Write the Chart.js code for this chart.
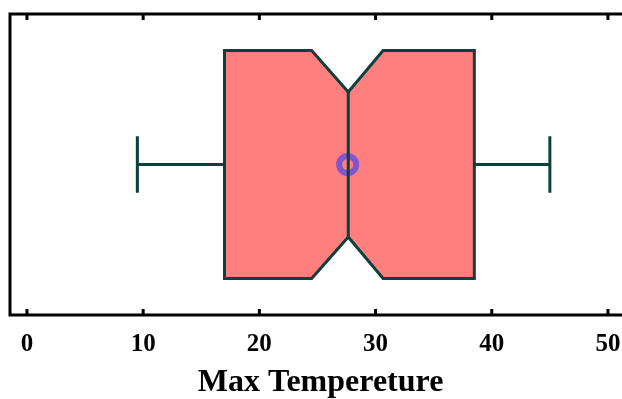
<!DOCTYPE html>
<html>
<head>
<meta charset="utf-8">
<script src="https://cdn.jsdelivr.net/npm/chart.js@4/dist/chart.umd.min.js"></script>
<style>
  html, body { margin: 0; padding: 0; background: #ffffff; overflow: hidden; width: 622px; height: 399px; }
  #wrap { width: 640px; height: 399px; }
</style>
</head>
<body>
<div id="wrap"><canvas id="c" width="640" height="399"></canvas></div>
<script>
// ---- data ----
const categories = ['Max Tempereture'];
const whiskerLow = [9.5];
const q1 = [17.0];
const notchLow = [24.5];
const median = [27.65];
const notchHigh = [30.65];
const q3 = [38.5];
const whiskerHigh = [45.0];
const means = [27.6];
const tickValues = [0, 10, 20, 30, 40, 50];
const axisTitle = 'Max Tempereture';

// ---- style ----
const LINE = '#0b403d';
const FILL = '#ff7f7f';
const MEAN = '#7f55d0';
const BOX_HALF = 0.757;
const NOTCH_HALF = 0.482;
const CAP_HALF = 0.187;

const boxPlugin = {
  id: 'notchedBox',
  beforeDatasetsDraw(chart) {
    const { ctx, chartArea: ca, scales: { x, y } } = chart;
    ctx.save();
    // frame
    ctx.strokeStyle = '#000';
    ctx.lineWidth = 3;
    ctx.lineCap = 'square';
    ctx.beginPath();
    ctx.moveTo(ca.right, ca.top);
    ctx.lineTo(ca.left, ca.top);
    ctx.lineTo(ca.left, ca.bottom);
    ctx.lineTo(ca.right, ca.bottom);
    ctx.stroke();
    ctx.lineCap = 'butt';
    x.ticks.forEach((t) => {
      const px = x.getPixelForValue(t.value);
      ctx.beginPath();
      ctx.moveTo(px, ca.top);
      ctx.lineTo(px, ca.top + 6);
      ctx.moveTo(px, ca.bottom);
      ctx.lineTo(px, ca.bottom - 6);
      ctx.stroke();
    });
    // boxes
    categories.forEach((c, i) => {
      const yc = y.getPixelForValue(0);
      const hb = Math.abs(y.getPixelForValue(BOX_HALF) - yc);
      const hn = Math.abs(y.getPixelForValue(NOTCH_HALF) - yc);
      const hc = Math.abs(y.getPixelForValue(CAP_HALF) - yc);
      const xl = x.getPixelForValue(whiskerLow[i]);
      const x1 = x.getPixelForValue(q1[i]);
      const xnl = x.getPixelForValue(notchLow[i]);
      const xm = x.getPixelForValue(median[i]);
      const xnh = x.getPixelForValue(notchHigh[i]);
      const x3 = x.getPixelForValue(q3[i]);
      const xh = x.getPixelForValue(whiskerHigh[i]);
      ctx.strokeStyle = LINE;
      ctx.lineWidth = 3;
      ctx.lineJoin = 'miter';
      // whiskers
      ctx.beginPath();
      ctx.moveTo(xl, yc); ctx.lineTo(x1, yc);
      ctx.moveTo(x3, yc); ctx.lineTo(xh, yc);
      ctx.moveTo(xl, yc - hc); ctx.lineTo(xl, yc + hc);
      ctx.moveTo(xh, yc - hc); ctx.lineTo(xh, yc + hc);
      ctx.stroke();
      // notched box
      ctx.beginPath();
      ctx.moveTo(x1, yc - hb);
      ctx.lineTo(xnl, yc - hb);
      ctx.lineTo(xm, yc - hn);
      ctx.lineTo(xnh, yc - hb);
      ctx.lineTo(x3, yc - hb);
      ctx.lineTo(x3, yc + hb);
      ctx.lineTo(xnh, yc + hb);
      ctx.lineTo(xm, yc + hn);
      ctx.lineTo(xnl, yc + hb);
      ctx.lineTo(x1, yc + hb);
      ctx.closePath();
      ctx.fillStyle = FILL;
      ctx.fill();
      ctx.stroke();
    });
    ctx.restore();
  },
  afterDatasetsDraw(chart) {
    const { ctx, scales: { x, y } } = chart;
    ctx.save();
    categories.forEach((c, i) => {
      const yc = y.getPixelForValue(0);
      const hn = Math.abs(y.getPixelForValue(NOTCH_HALF) - yc);
      const xm = x.getPixelForValue(median[i]);
      ctx.strokeStyle = LINE;
      ctx.lineWidth = 3;
      ctx.beginPath();
      ctx.moveTo(xm, yc - hn);
      ctx.lineTo(xm, yc + hn);
      ctx.stroke();
    });
    ctx.restore();
  }
};

new Chart(document.getElementById('c'), {
  type: 'scatter',
  data: {
    datasets: [{
      label: 'mean',
      data: categories.map((c, i) => ({ x: means[i], y: 0 })),
      pointRadius: 8.5,
      pointHoverRadius: 8.5,
      borderWidth: 6,
      pointBorderWidth: 6,
      borderColor: MEAN,
      backgroundColor: 'rgba(0,0,0,0)',
      pointBackgroundColor: 'rgba(0,0,0,0)'
    }]
  },
  options: {
    responsive: false,
    animation: false,
    devicePixelRatio: 1,
    layout: { autoPadding: false, padding: { left: 10, right: 8.8, top: 14, bottom: 0 } },
    plugins: { legend: { display: false }, tooltip: { enabled: false } },
    scales: {
      x: {
        type: 'linear',
        min: -1.46,
        max: 52,
        afterBuildTicks: (scale) => { scale.ticks = tickValues.map(v => ({ value: v })); },
        afterFit: (scale) => { scale.height = 84; scale.paddingLeft = 0; scale.paddingRight = 0; },
        grid: { display: false, drawTicks: false },
        border: { display: false },
        ticks: {
          padding: 14.5,
          color: '#000',
          maxRotation: 0,
          autoSkip: false,
          font: { family: '"Liberation Serif", "Times New Roman", serif', size: 25, weight: 'bold' }
        },
        title: {
          display: true,
          text: axisTitle,
          color: '#000',
          padding: { top: 0, bottom: 0 },
          font: { family: '"Liberation Serif", "Times New Roman", serif', size: 32, weight: 'bold', lineHeight: 1 }
        }
      },
      y: { type: 'linear', min: -1, max: 1, display: false, afterFit: (scale) => { scale.width = 0; } }
    }
  },
  plugins: [boxPlugin]
});
</script>
</body>
</html>
